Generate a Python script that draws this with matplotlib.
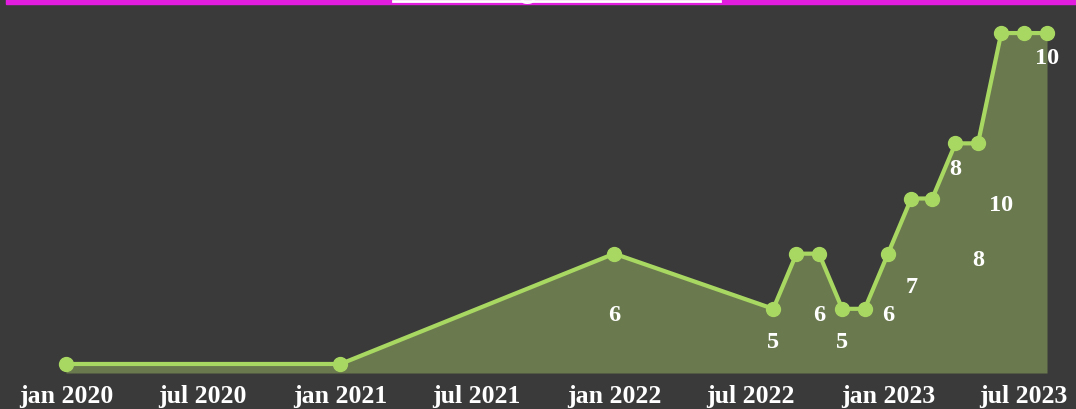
import datetime as dt
import matplotlib
matplotlib.use("Agg")
import matplotlib.pyplot as plt
import matplotlib.dates as mdates
from matplotlib.lines import Line2D
from matplotlib.patches import Rectangle

# monthly rating values
dates = ["2020-01-01", "2021-01-01", "2022-01-01", "2022-08-01", "2022-09-01",
         "2022-10-01", "2022-11-01", "2022-12-01", "2023-01-01", "2023-02-01",
         "2023-03-01", "2023-04-01", "2023-05-01", "2023-06-01", "2023-07-01",
         "2023-08-01"]
values = [4, 4, 6, 5, 6, 6, 5, 5, 6, 7, 7, 8, 8, 10, 10, 10]

# data labels that show up on the chart (date, value, placed just under the point?)
label_dates = ["2022-01-01", "2022-08-01", "2022-10-01", "2022-11-01", "2023-01-01",
               "2023-02-01", "2023-04-01", "2023-05-01", "2023-06-01", "2023-08-01"]
label_values = [6, 5, 6, 5, 6, 7, 8, 8, 10, 10]
label_under = [False, False, False, False, False, False, True, False, False, True]

tick_dates = ["2020-01-01", "2020-07-01", "2021-01-01", "2021-07-01",
              "2022-01-01", "2022-07-01", "2023-01-01", "2023-07-01"]
tick_labels = ["jan 2020", "jul 2020", "jan 2021", "jul 2021",
               "jan 2022", "jul 2022", "jan 2023", "jul 2023"]

title = "Rating over time"

bg = "#3a3a3a"
line_c = "#a9d862"
fill_c = "#6a7a4e"
magenta = "#e21de0"
serif = ["Liberation Serif", "DejaVu Serif"]

to_num = lambda s: mdates.date2num(dt.datetime.strptime(s, "%Y-%m-%d"))
x = [to_num(d) for d in dates]

W, H = 1076, 410
fig = plt.figure(figsize=(W / 100, H / 100), dpi=100, facecolor=bg)
ax = fig.add_axes([0, (H - 374) / H, 1, (374 - 20) / H])
ax.set_facecolor(bg)

px_per_day = 822 / 1096.0
x0 = to_num("2020-01-01")
ax.set_xlim(x0 - 66 / px_per_day, x0 + (W - 66) / px_per_day)
ax.set_ylim(4 - 9 / 55.0, 10 + 14 / 55.0)

ymin = ax.get_ylim()[0]
ax.fill_between(x, values, ymin, color=fill_c, lw=0, zorder=1)
ax.plot(x, values, color=line_c, lw=3, marker="o", ms=10, zorder=3)

for d, v, under in zip(label_dates, label_values, label_under):
    ly = v - 0.45 if under else v / 2 + 1.9
    ax.text(to_num(d), ly, str(v), color="white", ha="center", va="center",
            fontsize=17.5, fontweight="bold", family=serif, zorder=4)

ax.set_xticks([to_num(d) for d in tick_dates])
ax.set_xticklabels(tick_labels, color="white", fontsize=18.5, fontweight="bold",
                   family=serif)
ax.tick_params(axis="x", length=0, pad=8)
ax.set_yticks([])
for s in ax.spines.values():
    s.set_visible(False)

# top title bar, cut off by the top edge
fig.patches.append(Rectangle((6 / W, 1 - 5 / H), 1, 5 / H, transform=fig.transFigure,
                             color=magenta, zorder=0))
fig.text(556 / W, 1 + 3 / H, title, color="white", ha="center", va="baseline",
         fontsize=22, fontweight="bold", family=serif)
fig.lines.append(Line2D([393 / W, 720 / W], [1 - 2 / H, 1 - 2 / H],
                        transform=fig.transFigure, color="white", lw=2))

fig.savefig("out.png", dpi=100, facecolor=bg)
